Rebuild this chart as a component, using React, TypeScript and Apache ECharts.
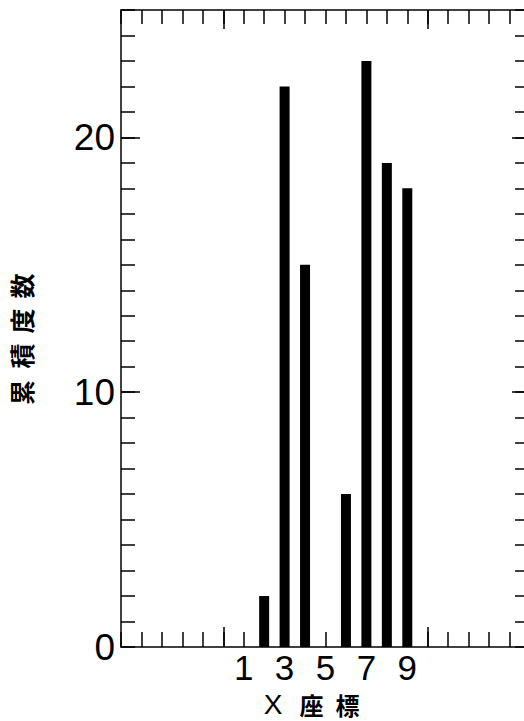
import React, { useEffect, useRef } from 'react';
import * as echarts from 'echarts';

const xCoords = [1, 2, 3, 4, 5, 6, 7, 8, 9];
const counts = [0, 2, 22, 15, 0, 6, 23, 19, 18];
const xTickLabels = [1, 3, 5, 7, 9];
const yTickLabels = [0, 10, 20];
const xMajorTicks = [0, 10];
const yMajorTicks = [10, 20];
const xTitleChars = ['X', '座', '標'];
const yTitleChars = ['累', '積', '度', '数'];

export default function App() {
  const ref = useRef<HTMLDivElement>(null);
  useEffect(() => {
    document.body.style.margin = '0';
    document.body.style.overflow = 'hidden';
    const chart = echarts.init(ref.current!, null, { renderer: 'svg' });
    const black = '#000';
    const lw = 1.5;
    const line = { show: true, onZero: false, lineStyle: { color: black, width: lw } };
    const noLine = { show: false, onZero: false };
    const xBase = { type: 'value', min: -5, max: 15, interval: 1, splitLine: { show: false } };
    const yBase = { type: 'value', min: 0, max: 25, interval: 1, splitLine: { show: false } };
    const tick = (len: number, custom?: number[]) => ({
      show: true,
      inside: true,
      length: len,
      lineStyle: { color: black, width: lw },
      ...(custom ? { customValues: custom } : {}),
    });
    const xTitleX = [273, 311.5, 347.5];
    const yTitleY = [392.5, 356, 321, 286];
    const graphics: any[] = [];
    xTitleChars.forEach((c, i) => {
      graphics.push({
        type: 'text',
        x: xTitleX[i],
        y: 704,
        style: {
          text: c,
          fontSize: i === 0 ? 28 : 24,
          fontFamily: i === 0 ? 'Liberation Sans' : 'Noto Sans CJK JP',
          fontWeight: i === 0 ? 'normal' : 'bold',
          fill: black,
          align: 'center',
          verticalAlign: 'middle',
        },
      });
    });
    yTitleChars.forEach((c, i) => {
      graphics.push({
        type: 'text',
        x: 21,
        y: yTitleY[i],
        rotation: Math.PI / 2,
        style: {
          text: c,
          fontSize: 25,
          fontFamily: 'Noto Sans CJK JP',
          fontWeight: 'bold',
          fill: black,
          align: 'center',
          verticalAlign: 'middle',
        },
      });
    });
    chart.setOption({
      animation: false,
      backgroundColor: '#fff',
      grid: { left: 121, top: 10, right: 10, bottom: 74, containLabel: false },
      xAxis: [
        {
          ...xBase,
          position: 'bottom',
          axisLine: line,
          axisTick: tick(15),
          axisLabel: {
            show: true,
            customValues: xTickLabels,
            formatter: (v: number) => (xTickLabels.includes(v) ? String(v) : ''),
            fontSize: 35,
            fontFamily: 'Liberation Sans',
            color: black,
            margin: 3,
          },
        },
        {
          ...xBase,
          position: 'top',
          axisLine: line,
          axisTick: tick(14),
          axisLabel: { show: false },
        },
        {
          ...xBase,
          position: 'bottom',
          axisLine: noLine,
          axisTick: tick(20, xMajorTicks),
          axisLabel: { show: false },
        },
        {
          ...xBase,
          position: 'top',
          axisLine: noLine,
          axisTick: tick(19, xMajorTicks),
          axisLabel: { show: false },
        },
      ],
      yAxis: [
        {
          ...yBase,
          position: 'left',
          axisLine: line,
          axisTick: tick(14),
          axisLabel: {
            show: true,
            customValues: yTickLabels,
            formatter: (v: number) => (yTickLabels.includes(v) ? String(v) : ''),
            fontSize: 37,
            fontFamily: 'Liberation Sans',
            color: black,
            margin: 6,
          },
        },
        {
          ...yBase,
          position: 'right',
          axisLine: line,
          axisTick: tick(15),
          axisLabel: { show: false },
        },
        {
          ...yBase,
          position: 'left',
          axisLine: noLine,
          axisTick: tick(19, yMajorTicks),
          axisLabel: { show: false },
        },
        {
          ...yBase,
          position: 'right',
          axisLine: noLine,
          axisTick: tick(18, yMajorTicks),
          axisLabel: { show: false },
        },
      ],
      series: [
        {
          type: 'bar',
          xAxisIndex: 0,
          yAxisIndex: 0,
          barWidth: 10,
          itemStyle: { color: black },
          data: xCoords.map((x, i) => [x, counts[i]]),
        },
      ],
      graphic: graphics,
    });
    return () => chart.dispose();
  }, []);
  return (
    <div
      style={{ position: 'absolute', left: 0, top: 0, width: 524, height: 721, overflow: 'hidden', background: '#fff' }}
    >
      <div ref={ref} style={{ position: 'absolute', left: 0, top: 0, width: 540, height: 721 }} />
    </div>
  );
}
